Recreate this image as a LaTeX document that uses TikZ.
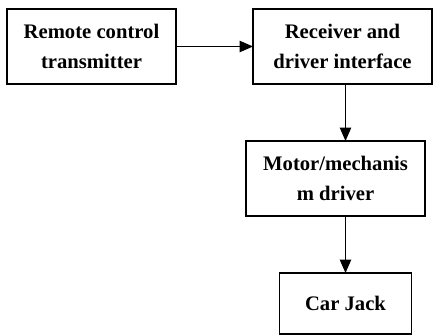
\documentclass[tikz,border=0pt]{standalone}
\usepackage{fontspec}
\setmainfont{Liberation Serif}
\usetikzlibrary{arrows.meta,positioning}
\tikzset{
  block/.style = {draw, rectangle, line width=0.9pt, inner sep=0pt, outer sep=0pt,
                  align=center, font=\bfseries\fontsize{15.5}{22}\selectfont},
  post/.style  = {-{Triangle[length=10pt,width=8.5pt]}, line width=0.9pt}
}

\begin{document}
\begin{tikzpicture}[x=0.75pt, y=-0.75pt]
  \useasboundingbox (0,0) rectangle (433,335);
  \node[block, minimum width=126.75pt, minimum height=56.25pt] (remote) at (91.5,46.5)
    {Remote control\\transmitter};
  \node[block, minimum width=134.25pt, minimum height=56.25pt] (recv) at (342.5,46.5)
    {Receiver and\\driver interface};
  \node[block, minimum width=134.25pt, minimum height=56.25pt] (motor) at (335.5,178.5)
    {Motor/mechanis\\m driver};
  \node[block, minimum width=99pt, minimum height=45.75pt] (jack) at (345.5,303.5)
    {Car Jack};
  \draw[post] (remote) -- (recv);
  \draw[post] (recv.south -| jack) -- (motor.north -| jack);
  \draw[post] (motor.south -| jack) -- (jack.north);
\end{tikzpicture}
\end{document}
